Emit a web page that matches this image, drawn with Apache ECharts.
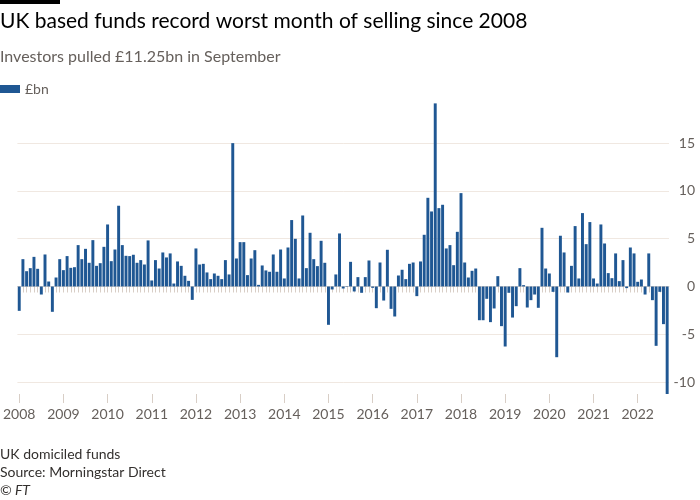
<!DOCTYPE html>
<html><head><meta charset="utf-8">
<script src="https://cdn.jsdelivr.net/npm/echarts@6/dist/echarts.min.js"></script>
<style>html,body{margin:0;padding:0;background:#fff}#c{width:700px;height:500px}</style>
</head><body><div id="c"></div>
<script>
var years = ['2008','2009','2010','2011','2012','2013','2014','2015','2016','2017','2018','2019','2020','2021','2022'];
var y2008 = [-2.55, 2.86, 1.6, 1.92, 3.1, 1.85, -0.84, 3.35, 0.52, -2.65, 0.94, 2.86];
var y2009 = [1.71, 3.18, 1.95, 2.02, 4.33, 2.86, 3.94, 2.48, 4.85, 2.16, 2.44, 4.15];
var y2010 = [6.49, 2.65, 3.87, 8.45, 4.33, 3.21, 3.18, 3.32, 2.48, 2.76, 2.30, 4.82];
var y2011 = [0.63, 2.76, 1.88, 3.56, 3.04, 3.46, 0.31, 2.62, 2.16, 1.12, 0.59, -1.40];
var y2012 = [3.98, 2.30, 2.37, 1.47, 0.77, 1.36, 1.12, 0.77, 2.76, 1.26, 15.0, 2.93];
var y2013 = [4.64, 4.64, 1.19, 2.93, 3.80, 0.17, 2.20, 1.68, 1.54, 3.35, 1.54, 3.87];
var y2014 = [0.84, 4.08, 6.95, 4.99, 0.84, 7.43, 1.92, 5.62, 2.86, 2.13, 4.78, 2.48];
var y2015 = [-4.01, -0.31, 1.26, 5.55, -0.21, -0.05, 2.58, -0.52, 0.98, -0.66, 0.98, 2.72];
var y2016 = [-0.14, -2.27, 2.51, -1.47, 3.84, -2.34, -3.14, 1.15, 1.75, 0.77, 2.37, 2.51];
var y2017 = [-1.01, 2.62, 5.41, 9.28, 7.85, 19.16, 8.20, 8.55, 3.98, 4.33, 2.23, 5.72];
var y2018 = [9.77, 2.51, 0.94, 1.64, 1.88, -3.53, -3.53, -1.29, -3.73, -2.30, 1.08, -4.15];
var y2019 = [-6.28, -0.66, -3.25, -2.06, 1.92, 0.14, -2.20, -1.43, -0.84, -2.23, 6.14, 1.88];
var y2020 = [1.36, -0.56, -7.40, 5.31, 3.56, -0.63, 2.16, 6.32, 0.84, 7.68, 4.43, 6.74];
var y2021 = [0.84, 0.31, 6.49, 4.50, 1.40, 0.87, 3.46, 0.56, 2.76, -0.17, 4.08, 3.46];
var y2022 = [0.49, 0.73, -0.84, 3.46, -1.43, -6.21, -0.56, -3.94, -11.25];
var yTicks = [-10, -5, 0, 5, 10, 15];

var values = [].concat(y2008, y2009, y2010, y2011, y2012, y2013, y2014, y2015, y2016, y2017, y2018, y2019, y2020, y2021, y2022);
var months = ['01','02','03','04','05','06','07','08','09','10','11','12'];
var cats = [];
for (var k = 0; k < values.length; k++) {
  cats.push(years[Math.floor(k / 12)] + '-' + months[k % 12]);
}

var FONT = 'Lato';
var chart = echarts.init(document.getElementById('c'), null, {renderer: 'canvas'});
chart.setOption({
  backgroundColor: '#ffffff',
  animation: false,
  textStyle: {fontFamily: FONT},
  graphic: [{type: 'rect', left: 0, top: 0, shape: {width: 60, height: 4}, style: {fill: '#000'}}],
  title: [
    {text: 'UK based funds record worst month of selling since 2008', left: 0, top: 11, padding: 0,
     textStyle: {fontFamily: FONT, fontSize: 21, fontWeight: 'normal', color: '#000'}},
    {text: 'Investors pulled £11.25bn in September', left: 0, top: 49, padding: 0,
     textStyle: {fontFamily: FONT, fontSize: 16, fontWeight: 'normal', color: '#66605c'}},
    {text: 'UK domiciled funds', left: 0, top: 447, padding: 0,
     textStyle: {fontFamily: FONT, fontSize: 14, fontWeight: 'normal', color: '#33302e'}},
    {text: 'Source: Morningstar Direct', left: 0, top: 465, padding: 0,
     textStyle: {fontFamily: FONT, fontSize: 14, fontWeight: 'normal', color: '#33302e'}},
    {text: '© FT', left: 0, top: 483, padding: 0,
     textStyle: {fontFamily: FONT, fontSize: 14, fontWeight: 'normal', fontStyle: 'italic', color: '#33302e'}}
  ],
  legend: {left: 0, top: 82, padding: 0, itemWidth: 20, itemHeight: 8, itemGap: 8,
    icon: 'rect', data: ['£bn'], textStyle: {fontFamily: FONT, fontSize: 14, color: '#66605c'}},
  grid: {left: 16, right: 31, top: 103, bottom: 106, containLabel: false},
  xAxis: [
    {type: 'category', data: cats, position: 'bottom',
     axisLine: {show: true, lineStyle: {color: '#e8ded5', width: 1}},
     axisTick: {show: true, interval: 0, alignWithLabel: true, length: 6, lineStyle: {color: '#d8cec6'}},
     axisLabel: {show: false}, splitLine: {show: false}},
    {type: 'category', data: cats, position: 'bottom',
     axisLine: {show: false},
     axisTick: {show: true, interval: 11, alignWithLabel: true, length: 9, lineStyle: {color: '#d8cec6'}},
     axisLabel: {show: true, interval: 11, margin: 13, fontFamily: FONT, fontSize: 14, color: '#66605c',
       formatter: function (v) { return v.slice(0, 4); }},
     splitLine: {show: false}}
  ],
  yAxis: {type: 'value', position: 'right', min: -11.25, max: 19.2, splitNumber: 6,
    axisLine: {show: false}, axisTick: {show: false},
    axisLabel: {show: true, showMinLabel: false, showMaxLabel: false, align: 'right', margin: 26,
      fontFamily: FONT, fontSize: 14, color: '#66605c',
      formatter: function (v) { return yTicks.indexOf(v) >= 0 ? String(v) : ''; }},
    splitLine: {show: true, showMinLine: false, showMaxLine: false, lineStyle: {color: '#f0e8e1', width: 1}}},
  series: [{name: '£bn', type: 'bar', data: values, xAxisIndex: 0, barWidth: '80%',
    itemStyle: {color: '#1f5793'}}]
});
</script></body></html>
